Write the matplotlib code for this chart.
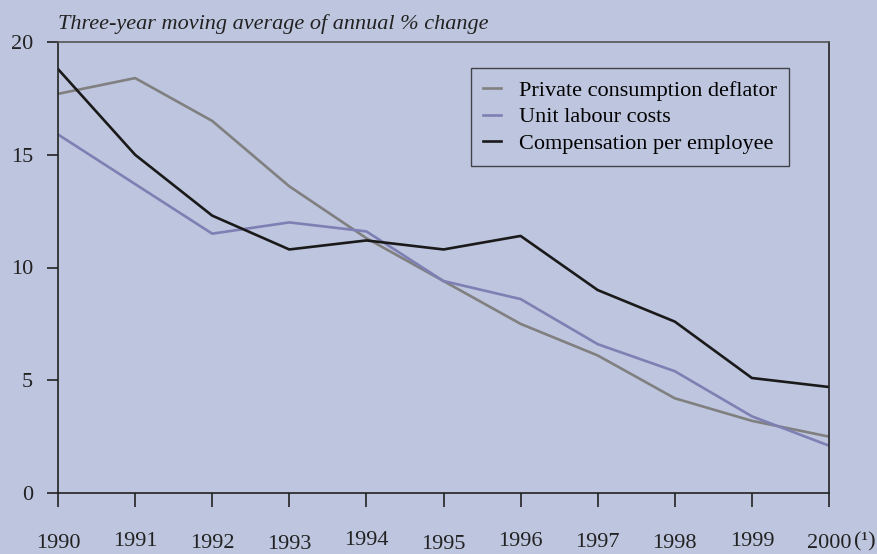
import matplotlib
matplotlib.use('Agg')
import matplotlib.pyplot as plt
from matplotlib.transforms import ScaledTranslation

# Data
years = [1990, 1991, 1992, 1993, 1994, 1995, 1996, 1997, 1998, 1999, 2000]
deflator = [17.7, 18.4, 16.5, 13.6, 11.3, 9.4, 7.5, 6.1, 4.2, 3.2, 2.5]
unit_labour = [15.9, 13.7, 11.5, 12.0, 11.6, 9.4, 8.6, 6.6, 5.4, 3.4, 2.1]
compensation = [18.8, 15.0, 12.3, 10.8, 11.2, 10.8, 11.4, 9.0, 7.6, 5.1, 4.7]
yticks = [0, 5, 10, 15, 20]

bg = '#bec5de'
fs = 16
plt.rcParams['font.family'] = ['Liberation Serif', 'DejaVu Serif']

fig = plt.figure(figsize=(8.78, 5.54), dpi=100, facecolor=bg)
ax = fig.add_axes([58/878, 61/554, (829-58)/878, (493-42)/554])
ax.set_facecolor(bg)

ax.plot(years, deflator, color='#808080', lw=1.9, label='Private consumption deflator')
ax.plot(years, unit_labour, color='#7e80b4', lw=1.9, label='Unit labour costs')
ax.plot(years, compensation, color='#1a1a1a', lw=1.9, label='Compensation per employee')

ax.set_xlim(1990, 2000)
ax.set_ylim(0, 20)
ax.set_yticks(yticks)
ax.set_xticks(years)
ax.set_xticklabels([str(y) for y in years])

for s in ax.spines.values():
    s.set_color('#222222')
    s.set_linewidth(1.2)
ax.spines['top'].set_color('#555555')

ax.tick_params(axis='y', direction='out', length=8, width=1.2, labelsize=fs, pad=10, colors='#222222')
ax.tick_params(axis='x', direction='out', length=10, width=1.2, labelsize=fs, pad=18, colors='#222222')

# slightly staggered year labels, like the original
offsets = [2, 0, 2, 3, -1, 3, 0, 1, 2, 0, 2]
for lbl, dy in zip(ax.get_xticklabels(), offsets):
    lbl.set_transform(lbl.get_transform() + ScaledTranslation(0, -dy/100, fig.dpi_scale_trans))

fig.text(854/878, 8/554, '(¹)', fontsize=fs, color='#222222', ha='left', va='baseline')

ax.text(0, 1.018, 'Three-year moving average of annual % change', transform=ax.transAxes,
        fontsize=fs, style='italic', color='#222222', ha='left', va='bottom')

leg = ax.legend(loc='upper right', bbox_to_anchor=((789-58)/771, (493-68)/451),
                borderaxespad=0, fontsize=fs, frameon=True, fancybox=False,
                handlelength=0.8, handletextpad=0.8, labelspacing=0.27, borderpad=0.55)
leg.get_frame().set_facecolor(bg)
leg.get_frame().set_edgecolor('#222222')
leg.get_frame().set_linewidth(1.0)

fig.savefig('out.png', dpi=100, facecolor=bg)
